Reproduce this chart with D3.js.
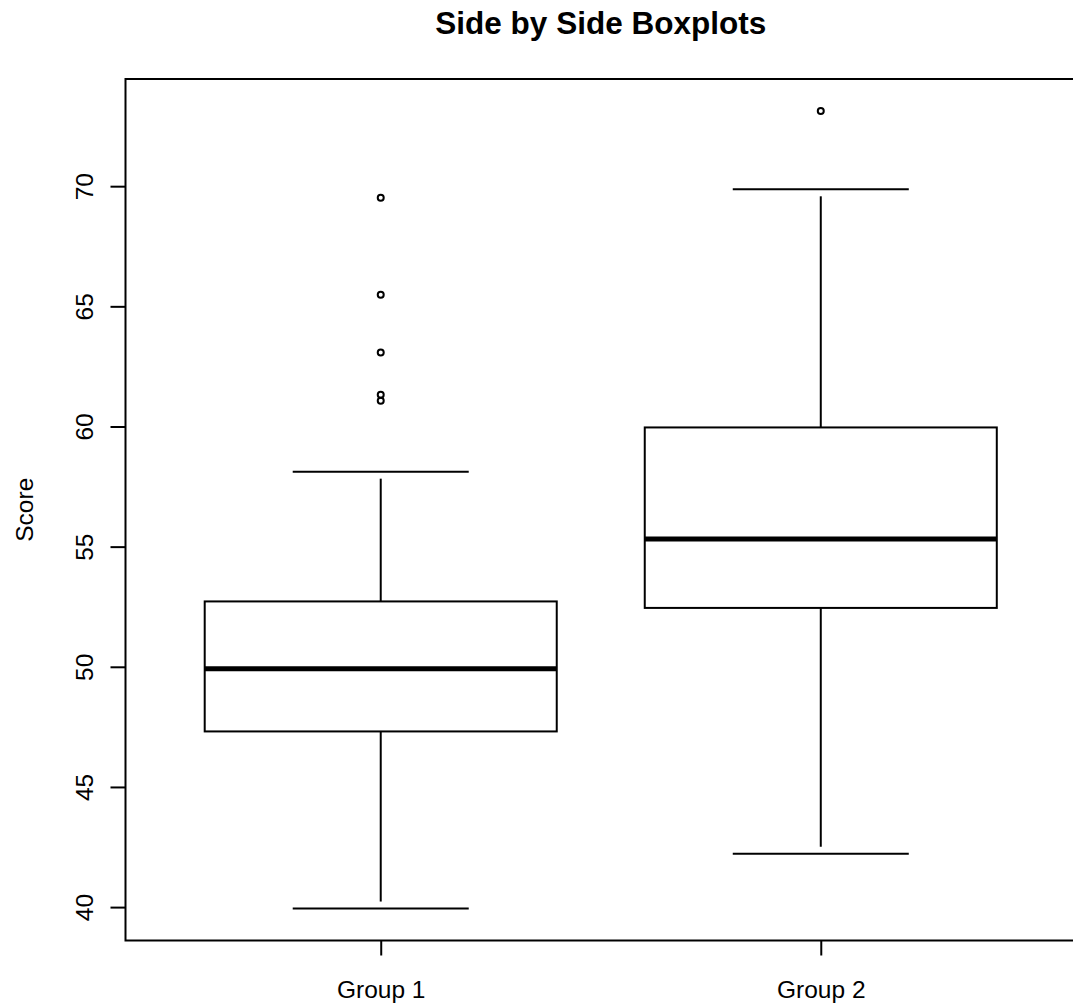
<!DOCTYPE html>
<html>
<head>
<meta charset="utf-8">
<script src="https://cdn.jsdelivr.net/npm/d3@7"></script>
<style>
	body { margin: 0; background: #fff; }
	text { font-family: "Liberation Sans", Arial, sans-serif; fill: #000; }
</style>
</head>
<body>
<div id="chart"></div>
<script>
// values
const groups = ["Group 1", "Group 2"];
const lowerWhisker = [39.94, 42.22];
const q1 = [47.31, 52.45];
const median = [49.92, 55.32];
const q3 = [52.72, 59.96];
const upperWhisker = [58.12, 69.87];
const outliers = [[69.52, 65.48, 63.08, 61.32, 61.07], [73.13]];
const yTicks = [40, 45, 50, 55, 60, 65, 70];

const width = 1073, height = 1005;
const plot = {left: 125.5, right: 1076, top: 79, bottom: 940.5};

let svg = d3.select('#chart').append('svg')
			.attr('width', width)
			.attr('height', height);

let x = d3.scaleLinear()
			.domain([0.42, 2.58])
			.range([plot.left, plot.right]);
let y = d3.scaleLinear()
			.domain([38.61, 74.46])
			.range([plot.bottom, plot.top]);

let boxHalf = 0.4, stapleHalf = 0.2;
let whiskerGap = 7;

let data = groups.map((g, i) => ({
	name: g, pos: i + 1,
	lo: lowerWhisker[i], q1: q1[i], med: median[i], q3: q3[i], hi: upperWhisker[i],
	out: outliers[i]
}));

// title
svg.append('text')
	.attr('x', (plot.left + plot.right) / 2)
	.attr('y', 34)
	.attr('text-anchor', 'middle')
	.style('font-size', '31.5px')
	.style('font-weight', 'bold')
	.text('Side by Side Boxplots');

let g = svg.selectAll('.box')
			.data(data)
			.enter().append('g').attr('class', 'box');

// whiskers (solid, stopping a little short of the staple)
g.append('line')
	.attr('x1', d => x(d.pos)).attr('x2', d => x(d.pos))
	.attr('y1', d => y(d.q3)).attr('y2', d => y(d.hi) + whiskerGap)
	.attr('stroke', '#000').attr('stroke-width', 2);
g.append('line')
	.attr('x1', d => x(d.pos)).attr('x2', d => x(d.pos))
	.attr('y1', d => y(d.q1)).attr('y2', d => y(d.lo) - whiskerGap)
	.attr('stroke', '#000').attr('stroke-width', 2);

// staples
['hi', 'lo'].forEach(k => {
	g.append('line')
		.attr('x1', d => x(d.pos - stapleHalf)).attr('x2', d => x(d.pos + stapleHalf))
		.attr('y1', d => y(d[k])).attr('y2', d => y(d[k]))
		.attr('stroke', '#000').attr('stroke-width', 2);
});

// boxes
g.append('rect')
	.attr('x', d => x(d.pos - boxHalf))
	.attr('y', d => y(d.q3))
	.attr('width', d => x(d.pos + boxHalf) - x(d.pos - boxHalf))
	.attr('height', d => y(d.q1) - y(d.q3))
	.attr('fill', '#fff')
	.attr('stroke', '#000').attr('stroke-width', 2);

// medians
g.append('line')
	.attr('x1', d => x(d.pos - boxHalf)).attr('x2', d => x(d.pos + boxHalf))
	.attr('y1', d => y(d.med)).attr('y2', d => y(d.med))
	.attr('stroke', '#000').attr('stroke-width', 5);

// outliers
g.selectAll('circle')
	.data(d => d.out.map(v => ({pos: d.pos, v: v})))
	.enter().append('circle')
	.attr('cx', d => x(d.pos))
	.attr('cy', d => y(d.v))
	.attr('r', 3)
	.attr('fill', 'none')
	.attr('stroke', '#000').attr('stroke-width', 2);

// frame
svg.append('rect')
	.attr('x', plot.left).attr('y', plot.top)
	.attr('width', plot.right - plot.left)
	.attr('height', plot.bottom - plot.top)
	.attr('fill', 'none')
	.attr('stroke', '#000').attr('stroke-width', 2);

// y axis, labels rotated like R's default las=0
let yAxis = svg.append('g')
				.attr('transform', `translate(${plot.left},0)`)
				.call(d3.axisLeft(y).tickValues(yTicks).tickSize(15).tickSizeOuter(0).tickPadding(0));
yAxis.select('.domain').remove();
yAxis.selectAll('line').attr('stroke', '#000').attr('stroke-width', 2);
yAxis.selectAll('text')
	.attr('x', 0).attr('y', 0).attr('dy', null)
	.attr('text-anchor', 'middle')
	.attr('transform', `translate(${93 - plot.left},0) rotate(-90)`)
	.style('font-size', '24.5px')
	.style('font-family', '"Liberation Sans", Arial, sans-serif');

// x axis
let xAxis = svg.append('g')
				.attr('transform', `translate(0,${plot.bottom})`)
				.call(d3.axisBottom(x).tickValues(data.map(d => d.pos)).tickSize(15).tickSizeOuter(0)
					.tickFormat((d, i) => groups[i]));
xAxis.select('.domain').remove();
xAxis.selectAll('line').attr('stroke', '#000').attr('stroke-width', 2);
xAxis.selectAll('text')
	.attr('y', 57).attr('dy', null)
	.style('font-size', '24.5px')
	.style('font-family', '"Liberation Sans", Arial, sans-serif');

// y label
svg.append('text')
	.attr('transform', `translate(33,${(plot.top + plot.bottom) / 2}) rotate(-90)`)
	.attr('text-anchor', 'middle')
	.style('font-size', '24.5px')
	.text('Score');
</script>
</body>
</html>
